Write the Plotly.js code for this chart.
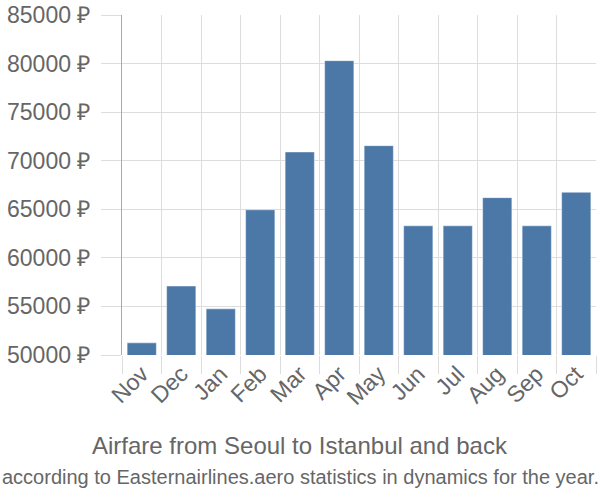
<!DOCTYPE html>
<html>
<head>
<meta charset="utf-8">
<script src="https://cdn.plot.ly/plotly-3.0.1.min.js"></script>
<style>html,body{margin:0;padding:0;background:#fff;}#chart{width:600px;height:500px;}</style>
</head>
<body>
<div id="chart"></div>
<script>
const months = ["Nov","Dec","Jan","Feb","Mar","Apr","May","Jun","Jul","Aug","Sep","Oct"];
const prices = [51250, 57100, 54750, 64950, 70900, 80300, 71550, 63300, 63300, 66200, 63300, 66750];
const yTicks = [50000, 55000, 60000, 65000, 70000, 75000, 80000, 85000];
const titleText = "Airfare from Seoul to Istanbul and back";
const subtitleText = "according to Easternairlines.aero statistics in dynamics for the year.";

const trace = {
  type: "bar",
  x: months,
  y: prices,
  marker: {color: "#4c78a8", line: {color: "rgba(255,255,255,0.45)", width: 1}},
  hoverinfo: "none"
};

const layout = {
  width: 600, height: 500,
  margin: {l: 122, r: 4, t: 15, b: 145},
  paper_bgcolor: "#fff", plot_bgcolor: "#fff",
  font: {family: "Liberation Sans, Arial, sans-serif", color: "#666"},
  bargap: 0.26,
  showlegend: false,
  xaxis: {
    type: "category",
    tickson: "boundaries",
    showgrid: true, gridcolor: "#ddd", gridwidth: 1,
    ticks: "outside", ticklen: 18, tickcolor: "#ddd",
    tickangle: -45,
    tickfont: {size: 23, color: "#666"},
    showline: false, zeroline: false
  },
  yaxis: {
    range: [50000, 85000],
    tickvals: yTicks,
    ticktext: yTicks.map(v => v + " ₽"),
    showgrid: true, gridcolor: "#ddd", gridwidth: 1,
    ticks: "outside", ticklen: 20, tickcolor: "#ddd",
    ticklabelstandoff: 6,
    tickfont: {size: 23, color: "#666"},
    showline: true, linecolor: "#aaa", linewidth: 1,
    zeroline: false
  },
  annotations: [
    {text: titleText, xref: "paper", yref: "paper", x: 0.5, xanchor: "center", y: 0, yanchor: "middle",
     showarrow: false, font: {size: 24, color: "#666"}},
    {text: subtitleText, xref: "paper", yref: "paper", x: 0.5, xanchor: "center", y: 0, yanchor: "middle",
     showarrow: false, font: {size: 20, color: "#666"}}
  ]
};
layout.annotations[0].x = (300 - 122) / 474;
layout.annotations[1].x = (300 - 122) / 474;
layout.annotations[0].y = (355 - 445) / 340;
layout.annotations[1].y = (355 - 477) / 340;

Plotly.newPlot("chart", [trace], layout, {displayModeBar: false, staticPlot: true});
</script>
</body>
</html>
